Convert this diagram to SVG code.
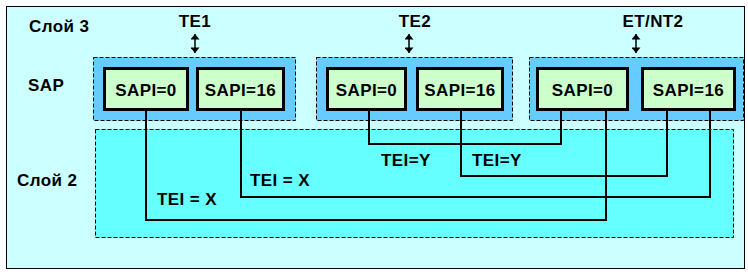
<svg xmlns="http://www.w3.org/2000/svg" width="748" height="274" viewBox="0 0 748 274">
<defs>
<style>
.t{font-family:"Liberation Sans",Arial,sans-serif;font-weight:bold;font-size:17px;letter-spacing:0.4px;fill:#000}
.c{text-anchor:middle}
.grp{fill:#66CCFF;stroke:#000;stroke-width:1;stroke-dasharray:4 2}
.sapi{fill:#CCFFCC;stroke:#000;stroke-width:3}
.ln{fill:none;stroke:#000;stroke-width:2}
.arr{stroke:#000;stroke-width:1.5;marker-start:url(#ah);marker-end:url(#ah)}
</style>
<marker id="ah" viewBox="0 0 6 10" refX="6" refY="5" markerWidth="6" markerHeight="9" orient="auto-start-reverse" markerUnits="userSpaceOnUse">
<path d="M0,0 L6,5 L0,10 Z" fill="#000"/>
</marker>
</defs>
<rect x="6.5" y="6.5" width="738" height="262" fill="#CCFFFF" stroke="#000" stroke-width="1"/>
<g id="labels">
<text class="t" x="29" y="32">Слой 3</text>
<text class="t" x="28" y="91">SAP</text>
<text class="t" x="17" y="186">Слой 2</text>
</g>
<g id="layer2">
<rect x="95.5" y="129.5" width="638" height="108" fill="#66FFFF" stroke="#000" stroke-width="1" stroke-dasharray="4 2"/>
</g>
<g id="TE1">
<text class="t c" x="195" y="27">TE1</text>
<line class="arr" x1="195" y1="34" x2="195" y2="53"/>
<rect class="grp" x="93.5" y="57.5" width="202" height="63"/>
<g id="TE1-SAPI0"><rect class="sapi" x="104.5" y="68.5" width="83" height="41"/><text class="t c" x="146" y="96">SAPI=0</text></g>
<g id="TE1-SAPI16"><rect class="sapi" x="197.5" y="68.5" width="86" height="41"/><text class="t c" x="240.5" y="96">SAPI=16</text></g>
</g>
<g id="TE2">
<text class="t c" x="415" y="27">TE2</text>
<line class="arr" x1="409" y1="34" x2="409" y2="53"/>
<rect class="grp" x="316.5" y="57.5" width="196" height="63"/>
<g id="TE2-SAPI0"><rect class="sapi" x="327.5" y="68.5" width="78" height="41"/><text class="t c" x="366.5" y="96">SAPI=0</text></g>
<g id="TE2-SAPI16"><rect class="sapi" x="417.5" y="68.5" width="85" height="41"/><text class="t c" x="460" y="96">SAPI=16</text></g>
</g>
<g id="ETNT2">
<text class="t c" x="653" y="27">ET/NT2</text>
<line class="arr" x1="636" y1="34" x2="636" y2="53"/>
<rect class="grp" x="529.5" y="57.5" width="214" height="63"/>
<g id="ET-SAPI0"><rect class="sapi" x="537.5" y="68.5" width="90" height="41"/><text class="t c" x="582.5" y="96">SAPI=0</text></g>
<g id="ET-SAPI16"><rect class="sapi" x="642.5" y="68.5" width="92" height="41"/><text class="t c" x="688.5" y="96">SAPI=16</text></g>
</g>
<g id="connectors">
<path class="ln" d="M146 111 V220 H606 V111"/>
<path class="ln" d="M241 111 V197 H710 V111"/>
<path class="ln" d="M369 111 V144 H561 V111"/>
<path class="ln" d="M461 111 V176 H667 V111"/>
<text class="t" x="381" y="166">TEI=Y</text>
<text class="t" x="472" y="166">TEI=Y</text>
<text class="t" x="250" y="186">TEI = X</text>
<text class="t" x="157" y="205">TEI = X</text>
</g>
</svg>
